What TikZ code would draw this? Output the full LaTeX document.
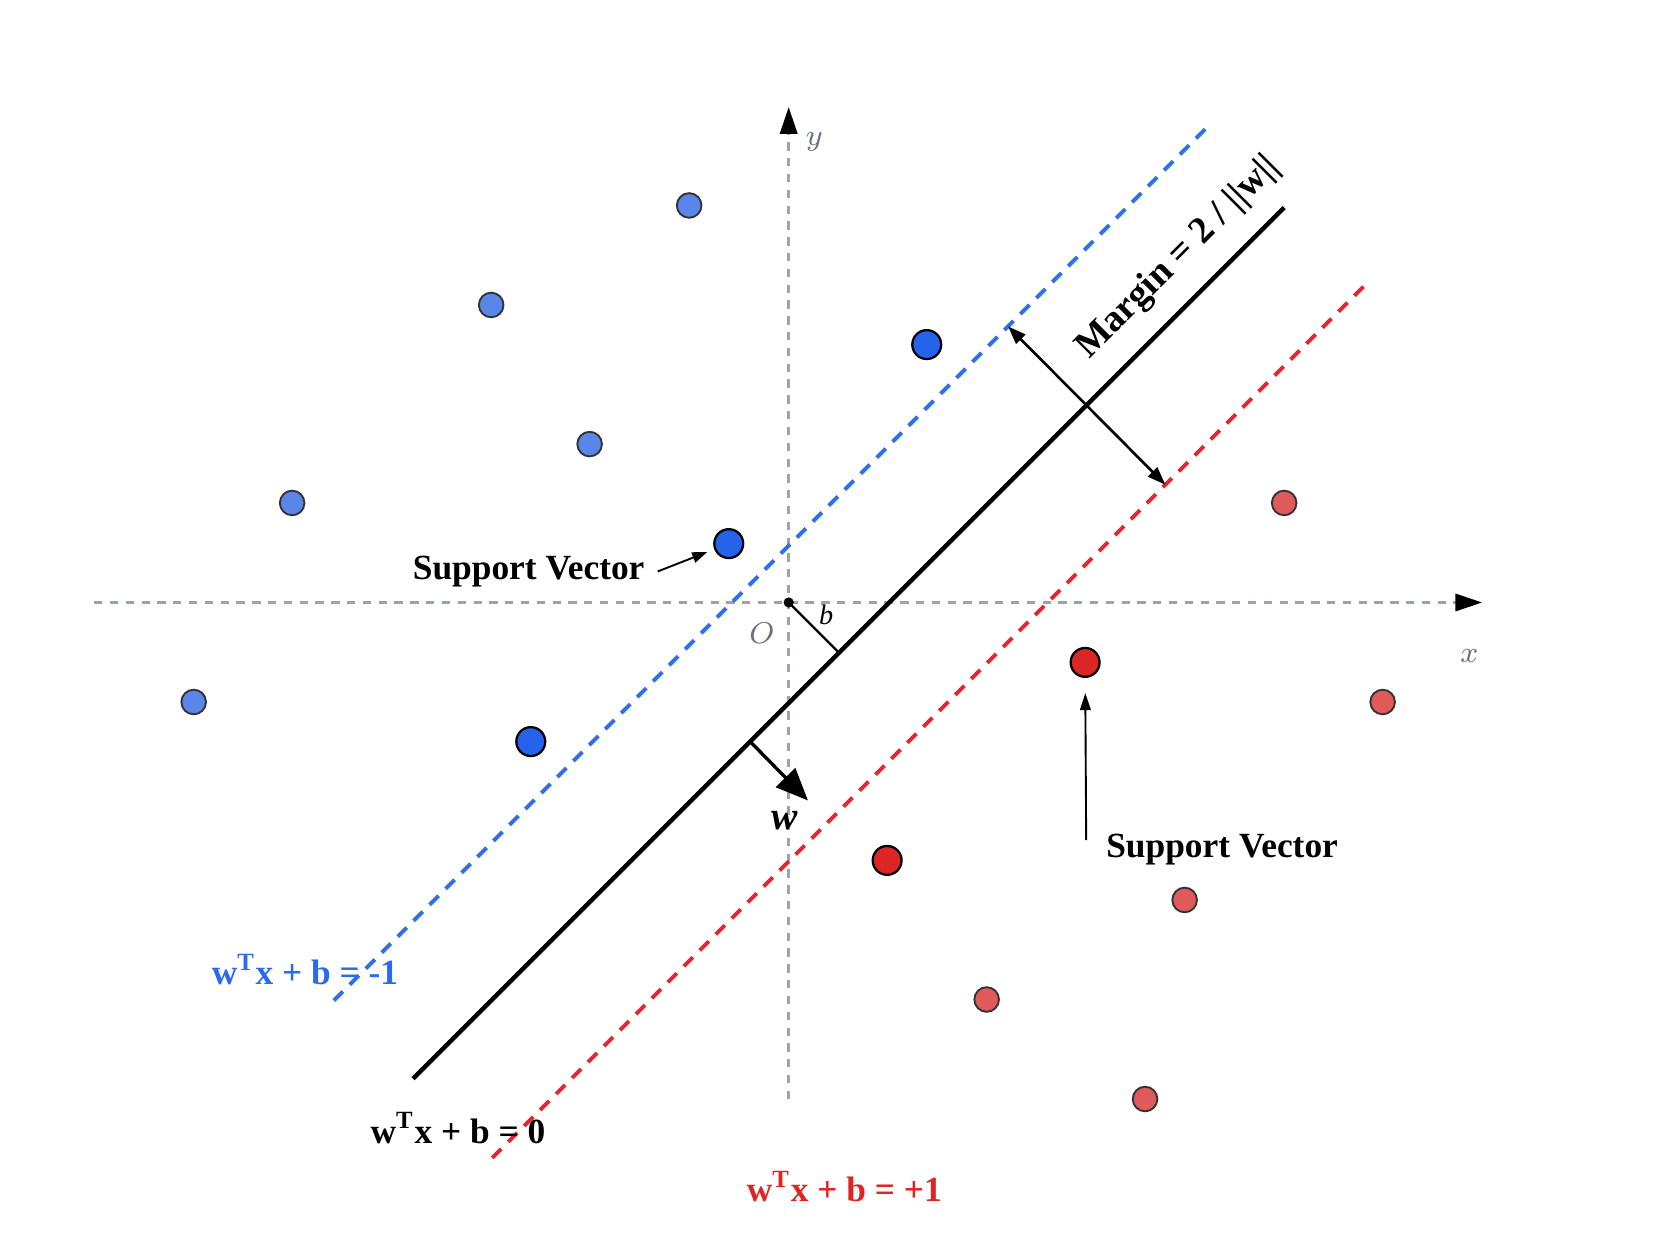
\documentclass[tikz,border=0pt]{standalone}
\usepackage{fontspec}
\setmainfont{Liberation Serif}
\usetikzlibrary{arrows.meta}
\definecolor{achsgrau}{HTML}{9CA3AF}
\definecolor{textgrau}{HTML}{6B7280}
\definecolor{blaulinie}{HTML}{2F6FEB}
\definecolor{rotlinie}{HTML}{E02A2A}
\definecolor{blaupunkt}{HTML}{5A86EA}
\definecolor{rotpunkt}{HTML}{E05A5A}
\definecolor{blausv}{HTML}{2563EB}
\definecolor{rotsv}{HTML}{DC2626}
\definecolor{blautext}{HTML}{2A6AF0}
\definecolor{rottext}{HTML}{E02424}

\begin{document}
\begin{tikzpicture}[x=0.01cm, y=0.01cm, % Einheit = Pixel
    achse/.style={achsgrau, line width=0.8pt, dash pattern=on 2.2pt off 2pt},
    rand/.style={line width=1.05pt, dash pattern=on 3.4pt off 2.6pt},
    punkt/.style={circle, draw=black!80, line width=0.5pt, inner sep=0pt, minimum size=0.23cm},
    svpunkt/.style={circle, draw=black, line width=0.6pt, inner sep=0pt, minimum size=0.27cm},
    beschr/.style={font=\fontsize{9.4}{11}\selectfont\bfseries},
    achsbeschr/.style={text=textgrau, font=\fontsize{8.5}{10}\selectfont}]
    \useasboundingbox (-737,-592) rectangle (831,563);
% Achsen zeichnen
    \draw[achse, -{Triangle[length=0.25cm, width=0.16cm, color=black]}] (-649,0) -- (648,0);
    \draw[achse, -{Triangle[length=0.25cm, width=0.16cm, color=black]}] (0,-464) -- (0,463);
    \node[achsbeschr] (xlab) at (636,-50) {$x$};
    \node[achsbeschr] (ylab) at (24,430) {$y$};
    \node[achsbeschr] (olab) at (-25,-29) {$O$};
    \node[circle, fill, inner sep=0pt, minimum size=0.095cm] (O) at (0,0) {};
    % Trenngeraden
    \draw[rand, blaulinie] (-425,-372) -- (390,443);
    \draw[line width=1.2pt] (-351,-445) -- (463,369);
    \draw[rand, rotlinie] (-277,-519) -- (538,296);
    % Abstand b und Normalenvektor w
    \coordinate (fuss) at (47,-47);
    \draw[line width=0.6pt] (O.center) -- (fuss);
    \node[font=\fontsize{7.5}{9}\selectfont\itshape] (blab) at (35,-12) {b};
    \coordinate (wfuss) at (-36,-130);
    \coordinate (wspitze) at (18,-185);
    \draw[line width=0.9pt, -{Triangle[length=0.3cm, width=0.25cm]}] (wfuss) -- (wspitze);
    \node[font=\fontsize{10.5}{12}\selectfont\bfseries\itshape] (wlab) at (-4,-204) {w};
    % Margin
    \coordinate (mblau) at (205,258);
    \coordinate (mrot) at (352,110);
    \draw[line width=0.7pt, {Triangle[length=0.17cm, width=0.12cm]}-{Triangle[length=0.17cm, width=0.12cm]}] (mblau) -- (mrot);
    \node[font=\fontsize{10}{12}\selectfont\bfseries, rotate=45] (marginlab) at (364,322) {Margin = 2 / ||w||};
    % Datenpunkte
    \foreach \p [count=\i] in {(-93,371), (-278,278), (-186,148), (-464,93), (-556,-93)}
        \node[punkt, fill=blaupunkt] (b\i) at \p {};
    \foreach \p [count=\i] in {(129,241), (-56,55), (-241,-130)}
        \node[svpunkt, fill=blausv] (bsv\i) at \p {};
    \foreach \p [count=\i] in {(463,93), (555,-93), (370,-278), (185,-371), (333,-464)}
        \node[punkt, fill=rotpunkt] (r\i) at \p {};
    \foreach \p [count=\i] in {(277,-56), (92,-241)}
        \node[svpunkt, fill=rotsv] (rsv\i) at \p {};
    % Support Vectors
    \node[beschr] (svlinks) at (-243,29) {Support Vector};
    \draw[line width=0.5pt, -{Triangle[length=0.14cm, width=0.1cm]}, shorten >=2pt] (svlinks.east) -- (bsv2);
    \node[beschr] (svrechts) at (405,-231) {Support Vector};
    \coordinate (svpfeil) at (278,-222);
    \draw[line width=0.5pt, -{Triangle[length=0.16cm, width=0.1cm]}, shorten >=4pt] (svpfeil) -- (rsv1);
    % Gleichungen
    \node[beschr, text=blautext] (gblau) at (-452,-343) {w\textsuperscript{T}x + b = -1};
    \node[beschr] (gnull) at (-309,-491) {w\textsuperscript{T}x + b = 0};
    \node[beschr, text=rottext] (grot) at (52,-546) {w\textsuperscript{T}x + b = +1};
\end{tikzpicture}
\end{document}
